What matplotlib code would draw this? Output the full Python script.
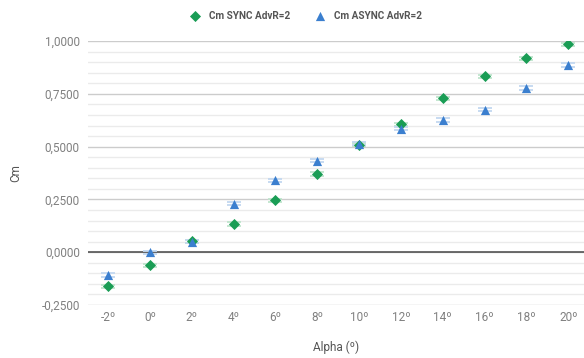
import numpy as np
import matplotlib

matplotlib.use('Agg')
import matplotlib.pyplot as plt
from matplotlib.ticker import MultipleLocator, FuncFormatter

# angle of attack (degrees) and moment coefficient
alpha = [-2, 0, 2, 4, 6, 8, 10, 12, 14, 16, 18, 20]
cm_sync = [-0.161, -0.062, 0.052, 0.133, 0.246, 0.370, 0.510, 0.606, 0.729, 0.833, 0.918, 0.985]
cm_async = [-0.108, 0.000, 0.050, 0.230, 0.340, 0.434, 0.514, 0.585, 0.627, 0.675, 0.778, 0.887]
err_sync = [0.008] * len(alpha)
err_async = [0.008] * len(alpha)

green = '#1a9d55'
blue = '#3b7fcf'

plt.rcParams['font.family'] = ['Roboto', 'DejaVu Sans']

fig = plt.figure(figsize=(5.84, 3.58), dpi=100, facecolor='white')
ax = fig.add_axes([0.151, 0.148, 0.849, 0.737])

# grid: minor every 0.05, major every 0.25
ax.yaxis.set_major_locator(MultipleLocator(0.25))
ax.yaxis.set_minor_locator(MultipleLocator(0.05))
ax.grid(axis='y', which='major', color='#cccccc', linewidth=1.0)
ax.grid(axis='y', which='minor', color='#ebebeb', linewidth=1.0)
ax.axhline(0, color='#555555', linewidth=1.2, zorder=1)
ax.set_axisbelow(True)

# small error bars with light caps
ax.errorbar(alpha, cm_sync, yerr=err_sync, fmt='none', ecolor='#bfe5cd',
            elinewidth=0.8, capsize=5, capthick=1.3, zorder=2)
ax.errorbar(alpha, cm_async, yerr=err_async, fmt='none', ecolor='#c3d8f0',
            elinewidth=0.8, capsize=5, capthick=1.3, zorder=2)

sync_pts = ax.scatter(alpha, cm_sync, marker='D', s=32, color=green, zorder=3,
                      linewidths=0, label='Cm SYNC AdvR=2')
async_pts = ax.scatter(alpha, cm_async, marker='^', s=44, color=blue, zorder=3,
                       linewidths=0, label='Cm ASYNC AdvR=2')

ax.set_xlim(-2.95, 20.75)
ax.set_ylim(-0.25, 1.0)
ax.set_xticks(alpha)
ax.set_xticklabels(['%dº' % a for a in alpha])
ax.yaxis.set_major_formatter(FuncFormatter(lambda v, p: ('%.4f' % v).replace('.', ',')))

for s in ax.spines.values():
    s.set_visible(False)
ax.tick_params(axis='both', which='both', length=0, colors='#808080', labelsize=8.5)
ax.tick_params(axis='x', pad=4)
ax.tick_params(axis='y', pad=6)

ax.set_xlabel('Alpha (º)', color='#555555', fontsize=8.5, labelpad=12)
ax.set_ylabel('Cm', color='#555555', fontsize=8.5, labelpad=14)

fig.legend(handles=[sync_pts, async_pts], loc='center', bbox_to_anchor=(0.52, 0.955),
           ncol=2, frameon=False, prop={'weight': 'bold', 'size': 7.2},
           labelcolor='#555555', handletextpad=0.4, columnspacing=2.0, markerscale=1.0)

plt.savefig('out.png', dpi=100)
